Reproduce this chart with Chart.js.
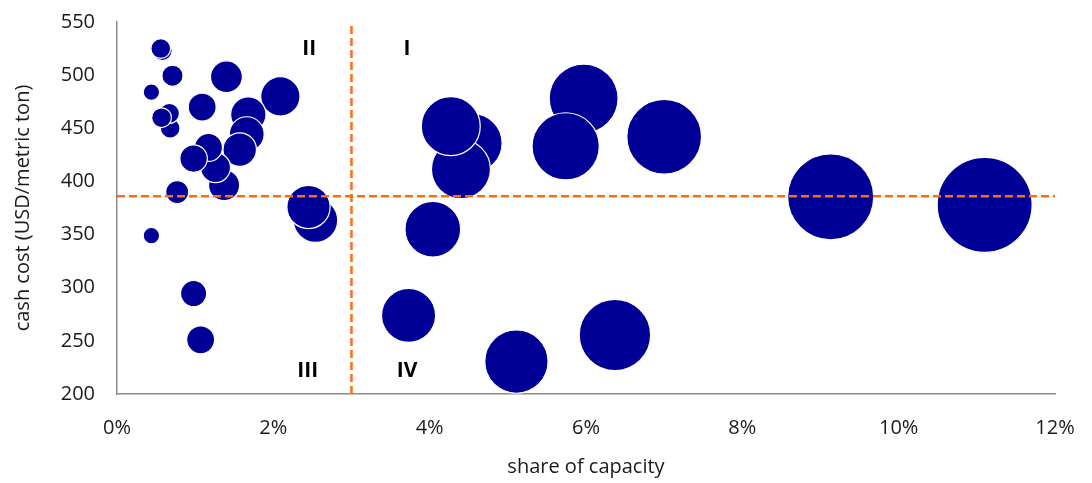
<!DOCTYPE html>
<html>
<head>
<meta charset="utf-8">
<script src="https://cdn.jsdelivr.net/npm/chart.js@4/dist/chart.umd.min.js"></script>
<style>
  html, body { margin: 0; padding: 0; background: #fff; }
  #wrap { width: 1092px; height: 483px; position: relative; }
</style>
</head>
<body>
<div id="wrap"><canvas id="c" width="1092" height="483"></canvas></div>
<script>
// share of capacity (%)
const share = [0.58, 0.56, 0.71, 0.44, 0.68, 0.67, 0.57, 1.09, 1.40, 2.09, 1.68, 1.66, 1.57, 1.37, 1.26, 1.17, 0.98, 0.77, 0.44, 0.98, 1.07, 2.54, 2.45, 4.55, 4.40, 4.27, 4.04, 5.97, 5.74, 7.00, 3.73, 5.11, 6.37, 9.13, 11.10];
// cash cost (USD/metric ton)
const cost = [523, 525, 499.5, 484, 450, 464, 460, 470, 498.5, 480, 463, 444.5, 430, 396.5, 413, 432, 421.5, 390, 349, 294.5, 251, 363.5, 376, 436, 411.5, 452, 355, 478, 433, 442, 274, 230.5, 255.5, 385.5, 378];
// bubble size (capacity, relative)
const capacity = [0.48, 0.48, 0.55, 0.33, 0.48, 0.50, 0.48, 0.96, 1.25, 1.90, 1.54, 1.49, 1.38, 1.19, 1.11, 0.97, 0.93, 0.65, 0.33, 0.84, 0.96, 2.41, 2.30, 4.28, 4.28, 4.28, 3.81, 5.83, 5.56, 6.87, 3.60, 4.93, 6.27, 9.12, 11.10];

const xTicks = [0, 2, 4, 6, 8, 10, 12];
const yTicks = [200, 250, 300, 350, 400, 450, 500, 550];
const avgCost = 386;      // horizontal divider
const avgShare = 3;       // vertical divider
const quadrantLabels = ['II', 'I', 'III', 'IV'];
const quadrantX = [2.46, 3.71, 2.44, 3.71];
const quadrantY = [524.5, 524.5, 221.6, 221.6];

const FONT = '"Open Sans", "Noto Sans", sans-serif';
const maxCap = Math.max(...capacity);
const RMAX = 47.5;

const bubbleData = share.map((s, i) => ({ x: s, y: cost[i], r: RMAX * Math.sqrt(capacity[i] / maxCap) }));

const quadPlugin = {
  id: 'quadLabels',
  afterDatasetsDraw(chart) {
    const { ctx, scales: { x, y } } = chart;
    ctx.save();
    ctx.font = 'bold 21px ' + FONT;
    ctx.fillStyle = '#000';
    ctx.textAlign = 'center';
    ctx.textBaseline = 'middle';
    quadrantLabels.forEach((t, i) => {
      ctx.fillText(t, x.getPixelForValue(quadrantX[i]), y.getPixelForValue(quadrantY[i]));
    });
    ctx.restore();
  }
};

const orange = '#FF6D0A';

new Chart(document.getElementById('c'), {
  type: 'bubble',
  data: {
    datasets: [
      {
        type: 'line',
        data: [{ x: xTicks[0], y: avgCost }, { x: xTicks[xTicks.length - 1], y: avgCost }],
        borderColor: orange, borderWidth: 2.5, borderDash: [8, 4],
        pointRadius: 0, fill: false, order: 0
      },
      {
        type: 'line',
        data: [{ x: avgShare, y: yTicks[0] }, { x: avgShare, y: yTicks[yTicks.length - 1] }],
        borderColor: orange, borderWidth: 2.5, borderDash: [8, 4],
        pointRadius: 0, fill: false, order: 0
      },
      {
        type: 'bubble',
        data: bubbleData,
        backgroundColor: '#000096',
        borderColor: '#ffffff',
        borderWidth: 1.2,
        order: 1,
        clip: false
      }
    ]
  },
  options: {
    responsive: false,
    animation: false,
    events: [],
    layout: { autoPadding: false, padding: { top: 22, right: 37, bottom: 0, left: 0 } },
    plugins: { legend: { display: false }, tooltip: { enabled: false } },
    scales: {
      x: {
        type: 'linear', min: 0, max: 12,
        afterBuildTicks: (s) => { s.ticks = xTicks.map(v => ({ value: v })); },
        afterFit: (s) => { s.height = 89; s.paddingLeft = 0; s.paddingRight = 0; },
        grid: { display: false, drawTicks: false },
        border: { display: true, color: '#8c8c8c', width: 1.5 },
        ticks: { padding: 22, color: '#1a1a1a', font: { family: FONT, size: 20 }, callback: v => v + '%', maxRotation: 0 },
        title: { display: true, text: 'share of capacity', color: '#1a1a1a', font: { family: FONT, size: 20 }, padding: { top: 0, bottom: 4 } }
      },
      y: {
        type: 'linear', min: 200, max: 550,
        afterBuildTicks: (s) => { s.ticks = yTicks.map(v => ({ value: v })); },
        afterFit: (s) => { s.width = 117; s.paddingTop = 0; s.paddingBottom = 0; },
        grid: { display: false, drawTicks: false },
        border: { display: true, color: '#8c8c8c', width: 1.5 },
        ticks: { padding: 22, color: '#1a1a1a', font: { family: FONT, size: 20 } },
        title: { display: true, text: 'cash cost (USD/metric ton)', color: '#1a1a1a', font: { family: FONT, size: 20 }, padding: { top: 11, bottom: 0 } }
      }
    }
  },
  plugins: [quadPlugin]
});
</script>
</body>
</html>
